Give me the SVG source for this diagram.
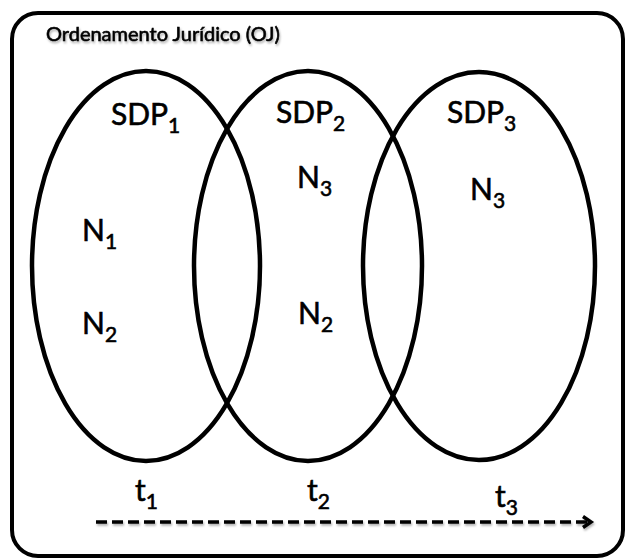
<svg xmlns="http://www.w3.org/2000/svg" width="626" height="558" viewBox="0 0 626 558">
<style>
.t{font-family:Lato,"Liberation Sans",sans-serif;fill:#000;stroke:#000;stroke-width:0.6}
.big{font-size:30px}
.sub{font-size:21px}
.ell{fill:none;stroke:#000;stroke-width:4.5}
</style>
<defs>
<filter id="sh" filterUnits="userSpaceOnUse" x="0" y="0" width="626" height="558"><feDropShadow dx="1" dy="2" stdDeviation="1.2" flood-color="#000" flood-opacity="0.3"/></filter>
<marker id="ah" markerWidth="14" markerHeight="14" refX="9" refY="7" orient="auto" markerUnits="userSpaceOnUse"><path d="M2,1.5 L10,7 L2,12.5" fill="none" stroke="#000" stroke-width="3.5"/></marker>
</defs>
<rect width="626" height="558" fill="#fff"/>
<g id="oj">
<rect x="12" y="13" width="611" height="543" rx="26" fill="none" stroke="#000" stroke-width="4"/>
<text class="t" x="46" y="41" font-size="20" stroke-width="0.4" filter="url(#sh)">Ordenamento Jurídico (OJ)</text>
</g>
<g id="sdp1">
<ellipse class="ell" cx="146" cy="266" rx="114" ry="195"/>
<text class="t big" x="111" y="125">SDP<tspan class="sub" dy="8">1</tspan></text>
<text class="t big" x="82" y="241">N<tspan class="sub" dy="8">1</tspan></text>
<text class="t big" x="82" y="334">N<tspan class="sub" dy="8">2</tspan></text>
</g>
<g id="sdp2">
<ellipse class="ell" cx="308" cy="266" rx="114" ry="195"/>
<text class="t big" x="276" y="123">SDP<tspan class="sub" dy="8">2</tspan></text>
<text class="t big" x="297" y="188">N<tspan class="sub" dy="8">3</tspan></text>
<text class="t big" x="298" y="324">N<tspan class="sub" dy="8">2</tspan></text>
</g>
<g id="sdp3">
<ellipse class="ell" cx="479" cy="266" rx="116" ry="194"/>
<text class="t big" x="447" y="123">SDP<tspan class="sub" dy="8">3</tspan></text>
<text class="t big" x="470" y="200">N<tspan class="sub" dy="8">3</tspan></text>
</g>
<g id="time">
<text class="t big" x="135" y="501">t<tspan class="sub" dy="8">1</tspan></text>
<text class="t big" x="307" y="501">t<tspan class="sub" dy="8">2</tspan></text>
<text class="t big" x="495" y="507">t<tspan class="sub" dy="8">3</tspan></text>
</g>
<g id="connectors">
<line x1="96" y1="522" x2="590" y2="522" stroke="#000" stroke-width="3.5" stroke-dasharray="11,5" marker-end="url(#ah)" filter="url(#sh)"/>
</g>
</svg>
